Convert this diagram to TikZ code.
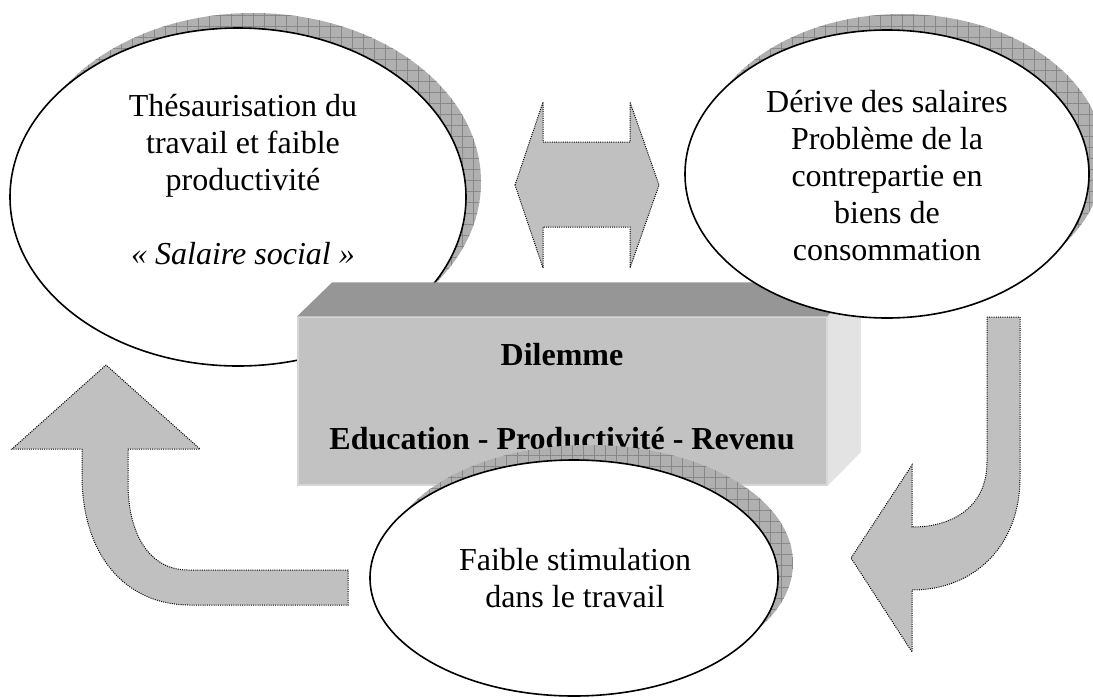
\documentclass[tikz,border=0pt]{standalone}
\usepackage{fontspec}
\setmainfont{Liberation Serif}
\usetikzlibrary{shapes.geometric,patterns.meta}
\definecolor{shbase}{RGB}{176,176,176}
\definecolor{shline}{RGB}{135,135,135}
\definecolor{arrowgray}{RGB}{192,192,192}
\definecolor{frontgray}{RGB}{194,194,194}
\definecolor{topgray}{RGB}{150,150,150}
\definecolor{sidegray}{RGB}{227,227,227}
\definecolor{edgegray}{RGB}{215,215,215}
\begin{document}
\begin{tikzpicture}[x=1pt,y=-1pt,
  shadowfill/.style={ellipse, inner sep=0pt, fill=shbase,
    postaction={pattern={Hatch[distance=11pt,line width=0.7pt]}, pattern color=shline}},
  bubble/.style={ellipse, inner sep=0pt, draw=black, line width=1.6pt, fill=white},
  arrowshape/.style={fill=arrowgray, draw=black, line width=1pt, dash pattern=on 1pt off 1.2pt},
  txt/.style={font=\fontsize{32}{37}\selectfont, align=center, inner sep=0pt, anchor=base},
  boldtxt/.style={font=\fontsize{32}{38}\selectfont\bfseries, inner sep=0pt, anchor=base}
]
\useasboundingbox (0,0) rectangle (1093,697);

% left ellipse
\node[shadowfill, minimum width=456pt, minimum height=338pt] (Lsh) at (253,182) {};
\node[bubble, minimum width=456pt, minimum height=338pt] (L) at (238,197) {};
\node[txt] (Lt) at (243,264) {Thésaurisation du\\travail et faible\\productivité\\[37pt]\textit{« Salaire social »}};

% double arrow
\path[arrowshape] (515,185) -- (543,102) -- (543,142) -- (630,142) -- (630,102)
  -- (659,185) -- (630,268) -- (630,227) -- (543,227) -- (543,268) -- cycle;

% left curved arrow
\path[arrowshape] (82,449) -- (82,475) .. controls (82,555) and (125,605) .. (190,605)
  -- (348,605) -- (348,570) -- (188,570) .. controls (150,570) and (128,535) .. (128,483)
  -- (128,449) -- (200,449) -- (106,365) -- (12,449) -- cycle;

% right curved arrow
\path[arrowshape] (987,317) -- (1020,317) -- (1020,478) .. controls (1020,545) and (975,590) .. (912,590)
  -- (912,652) -- (851,558) -- (912,465) -- (912,527)
  .. controls (955,527) and (987,505) .. (987,462) -- cycle;

% box
\node[fill=frontgray, draw=edgegray, line width=1.5pt, minimum width=529pt, minimum height=168pt, inner sep=0pt] (B) at (562.5,401) {};
\fill[topgray] (B.north west) -- ++(35,-34) -- ++(529,0) -- (B.north east) -- cycle;
\fill[sidegray] (B.north east) -- ++(33,-34) -- ++(0,170) -- (B.south east) -- cycle;
\node[boldtxt] (Bt1) at (562,365) {Dilemme};
\node[boldtxt] (Bt2) at (562,449) {Education - Productivité - Revenu};

% right ellipse
\node[shadowfill, minimum width=404pt, minimum height=288pt] (Rsh) at (902,158) {};
\node[bubble, minimum width=404pt, minimum height=288pt] (R) at (887,174) {};
\node[txt] (Rt) at (887,260) {Dérive des salaires\\Problème de la\\contrepartie en\\biens de\\consommation};

% bottom ellipse
\node[shadowfill, minimum width=408pt, minimum height=236pt] (Bsh) at (589,563) {};
\node[bubble, minimum width=408pt, minimum height=236pt] (D) at (574,578) {};
\node[txt] (Dt) at (575,607) {Faible stimulation\\dans le travail};
\end{tikzpicture}
\end{document}
